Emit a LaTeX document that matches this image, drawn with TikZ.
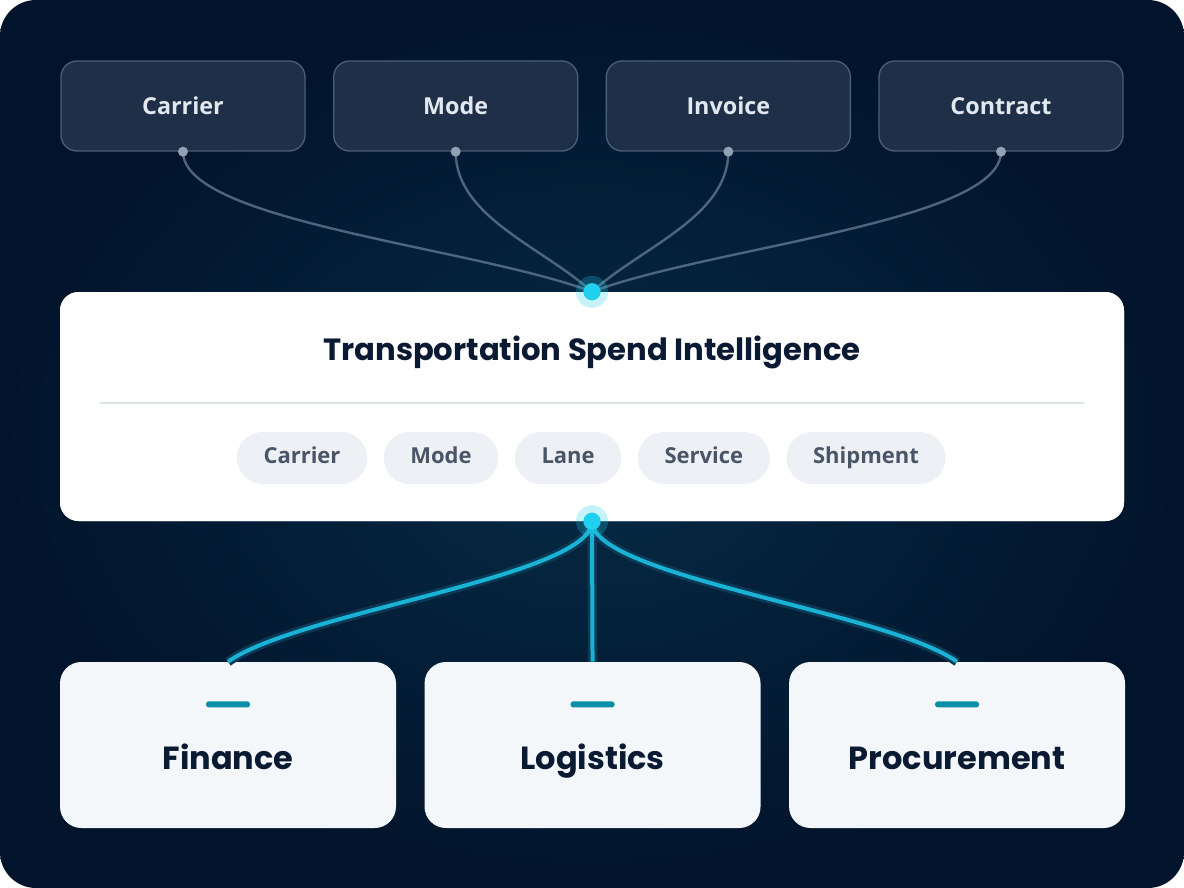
\documentclass[tikz,border=0pt]{standalone}
\usepackage{fontspec}
\setmainfont{Open Sans}
\newfontfamily\headfont{Poppins}
\usetikzlibrary{positioning,shapes}
\definecolor{bgdark}{HTML}{02142C}
\definecolor{bgmid}{HTML}{062B45}
\definecolor{tfill}{HTML}{1E2F47}
\definecolor{tline}{HTML}{4B5E75}
\definecolor{tlabel}{HTML}{E2E8F0}
\definecolor{wirec}{HTML}{4D667E}
\definecolor{dotc}{HTML}{8FA3B5}
\definecolor{hubc}{HTML}{1FD0EF}
\definecolor{hotc}{HTML}{1AB3D6}
\definecolor{glowc}{HTML}{0A3A55}
\definecolor{ink}{HTML}{0B1A33}
\definecolor{pill}{HTML}{EDF1F5}
\definecolor{pilltext}{HTML}{4A5568}
\definecolor{sepc}{HTML}{DDE2E8}
\definecolor{dept}{HTML}{F4F7FA}
\definecolor{tickc}{HTML}{0A8FA6}
\tikzstyle{Tbox}=[draw=tline,fill=tfill,line width=1pt,rounded corners=12pt,
                minimum width=183pt,minimum height=67.5pt,text=tlabel,
                font=\bfseries\fontsize{17.5}{20}\selectfont]
\tikzstyle{Main}=[fill=white,rounded corners=14pt,minimum width=798pt,
                minimum height=171.75pt]
\tikzstyle{Pill}=[fill=pill,rounded corners=19.5pt,minimum height=39pt,
                inner xsep=20pt,text height=12pt,text depth=3.5pt,text=pilltext,
                font=\bfseries\fontsize{16.5}{18}\selectfont]
\tikzstyle{Dept}=[fill=dept,rounded corners=16pt,minimum width=252pt,
                minimum height=124.5pt]
\tikzstyle{Dlabel}=[anchor=base,text=ink,font=\headfont\bfseries\fontsize{24}{28}\selectfont]
\tikzstyle{Tick}=[fill=tickc,rounded corners=2pt,inner sep=0,
                minimum width=33pt,minimum height=4.5pt]
\tikzstyle{Adot}=[circle,fill=dotc,inner sep=0,minimum size=7.5pt]
\tikzstyle{Hub}=[circle,fill=hubc,inner sep=0,minimum size=13pt]
\tikzstyle{wire}=[draw=wirec,line width=1.8pt]
\tikzstyle{hot}=[draw=hotc,line width=3pt]
\tikzstyle{glow}=[draw=glowc,line width=7pt]

\begin{document}
\begin{tikzpicture}[x=0.75pt,y=-0.75pt]
  \useasboundingbox (0,0) rectangle (1184,888);
  \shade[inner color=bgmid,outer color=bgdark,rounded corners=27pt]
    (0,0) rectangle (1184,888);
  % sources
  \node[Tbox] (carrier) at (183,106) {Carrier};
  \node[Tbox,right=20.5pt of carrier] (mode) {Mode};
  \node[Tbox,right=20.5pt of mode] (invoice) {Invoice};
  \node[Tbox,right=20.5pt of invoice] (contract) {Contract};
  \node[Main] (spend) at (592,406.5) {};
  \coordinate (hubT) at (spend.north);
  \coordinate (hubB) at (spend.south);
  % wires from sources
  \draw[wire] (carrier.south) .. controls +(0,70) and +(-120,-45) .. (hubT);
  \draw[wire] (mode.south) .. controls +(0,65) and +(-50,-45) .. (hubT);
  \draw[wire] (invoice.south) .. controls +(0,65) and +(50,-45) .. (hubT);
  \draw[wire] (contract.south) .. controls +(0,70) and +(120,-45) .. (hubT);
  \foreach \s in {carrier,mode,invoice,contract}
    \node[Adot] at (\s.south) {};
  \node[Main] at (spend.center) {};
  \node[text=ink,font=\headfont\bfseries\fontsize{23}{28}\selectfont]
    (title) at (592,352) {Transportation Spend Intelligence};
  \draw[sepc,line width=1pt] (100,403) -- (1084,403);
  % dimensions
  \node[Pill] (p1) at (302,458) {Carrier};
  \node[Pill,right=12pt of p1] (p2) {Mode};
  \node[Pill,right=12pt of p2] (p3) {Lane};
  \node[Pill,right=12pt of p3] (p4) {Service};
  \node[Pill,right=12pt of p4] (p5) {Shipment};
  % consumers
  \node[Dept] (finance) at (228,745) {};
  \node[Dept,right=21pt of finance] (logistics) {};
  \node[Dept,right=21pt of logistics] (procure) {};
  \foreach \d/\t in {finance/Finance,logistics/Logistics,procure/Procurement}{
    \node[Tick] at ([yshift=-32pt]\d.north) {};
    \node[Dlabel] at ([yshift=-18pt]\d.center) {\t};
  }
  \draw[glow] (hubB) .. controls +(0,55) and +(70,-50) .. (finance.north);
  \draw[glow] (hubB) -- (logistics.north);
  \draw[glow] (hubB) .. controls +(0,55) and +(-70,-50) .. (procure.north);
  \draw[hot] (hubB) .. controls +(0,55) and +(70,-50) .. (finance.north);
  \draw[hot] (hubB) -- (logistics.north);
  \draw[hot] (hubB) .. controls +(0,55) and +(-70,-50) .. (procure.north);
  % hubs
  \foreach \h in {hubT,hubB}{
    \fill[hubc,opacity=0.25] (\h) circle (12pt);
    \node[Hub] at (\h) {};
  }
\end{tikzpicture}
\end{document}
